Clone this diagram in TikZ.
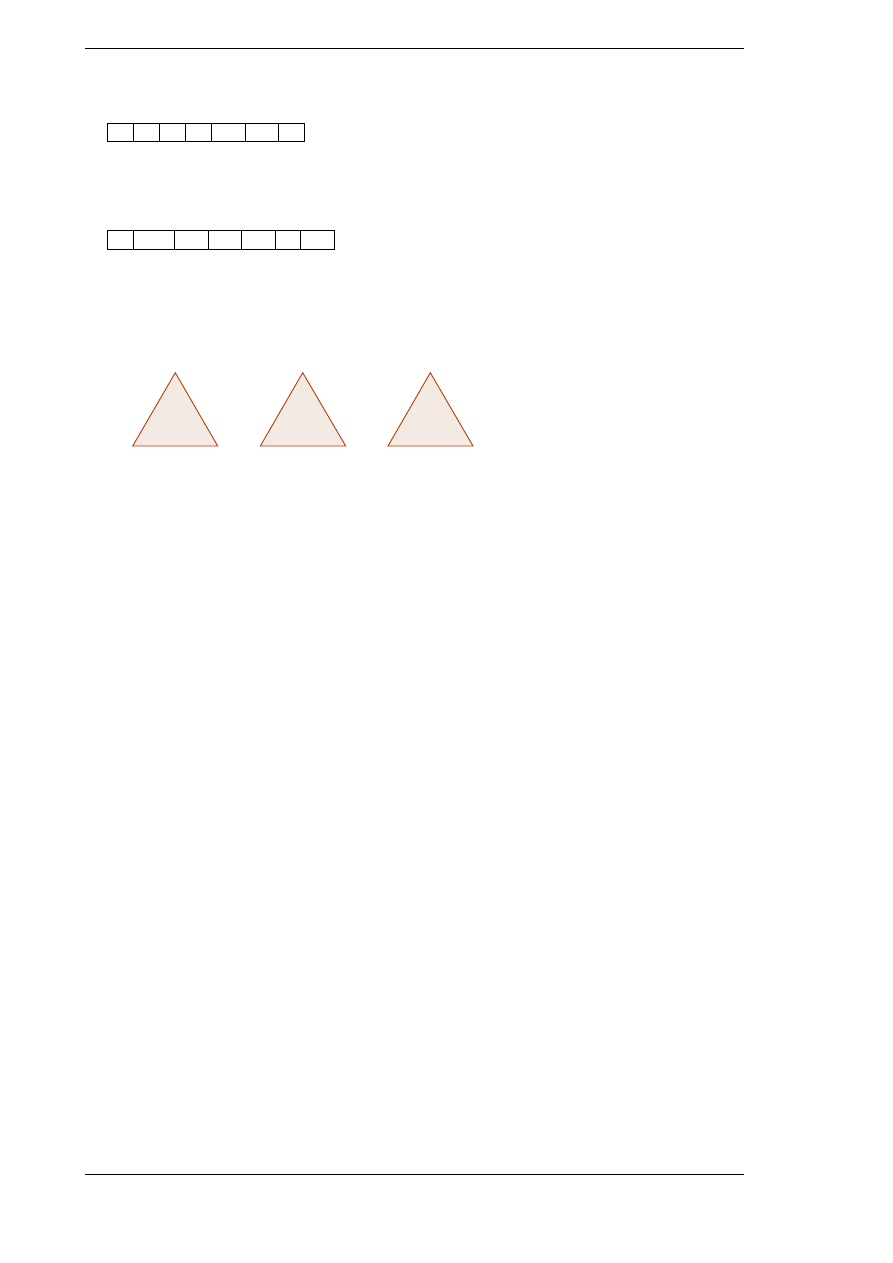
\documentclass[tikz,border=0pt]{standalone}
\begin{document}
\begin{tikzpicture}[x=1pt,y=-1pt,
  rule/.style={line width=1pt,black},
  cell/.style={draw=black,line width=1pt},
  tri/.style={draw=triorange,fill=trifill,line width=0.9pt,line join=miter}]
\definecolor{triorange}{RGB}{180,60,5}
\definecolor{trifill}{RGB}{243,234,227}
\useasboundingbox (0,0) rectangle (893,1263);
% rules
\coordinate (tl) at (85,48.3);
\coordinate (tr) at (743.7,48.3);
\coordinate (bl) at (85,1174.3);
\coordinate (br) at (743.7,1174.3);
\draw[rule] (tl) -- (tr);
\draw[rule] (bl) -- (br);
% row 1
\foreach \a/\b [count=\i] in {107.3/133.3,133.3/159.3,159.3/185.3,185.3/211.3,211.3/245.3,245.3/278.7,278.7/304.3}
  \draw[cell] (\a,123.3) rectangle (\b,141);
% row 2
\foreach \a/\b [count=\i] in {107.3/133.3,133.3/174.3,174.3/208.3,208.3/241.7,241.7/275.7,275.7/300.3,300.3/334.3}
  \draw[cell] (\a,230.7) rectangle (\b,249);
% triangles
\draw[tri] (175.3,372.7) -- (217.7,446) -- (132.7,446) -- cycle;
\draw[tri] (302.7,372.7) -- (345.7,446) -- (260.3,446) -- cycle;
\draw[tri] (430.3,372.7) -- (473,446) -- (388,446) -- cycle;
\end{tikzpicture}
\end{document}
